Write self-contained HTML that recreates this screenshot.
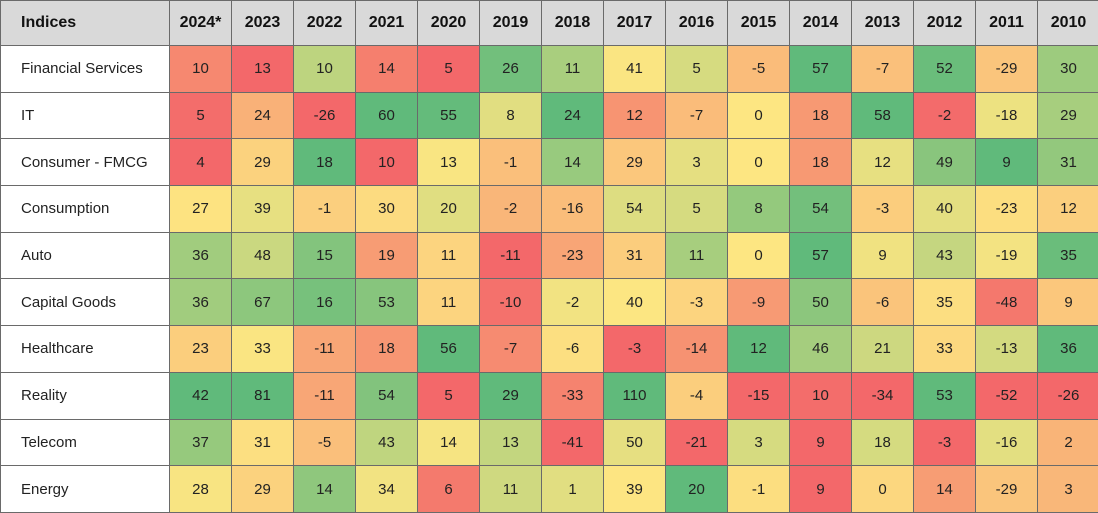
<!DOCTYPE html>
<html><head><meta charset="utf-8">
<style>
body{margin:0;background:#fff;font-family:"Liberation Sans",Arial,sans-serif;}
table{border-collapse:collapse;table-layout:fixed;width:1098px;}
td,th{border:1px solid #6a6a6a;text-align:center;font-size:15px;color:#222;padding:0;}
th{background:#d9d9d9;height:44px;font-size:16px;font-weight:bold;color:#111;}
td{height:45.7px;}
th.first{text-align:left;padding-left:20px;}
td.name{text-align:left;padding-left:20px;background:#fff;}
</style></head>
<body>
<table>
<colgroup><col style="width:169px" id="c0"></colgroup>
<thead><tr id="hdr"><th class="first">Indices</th></tr></thead>
<tbody id="body"></tbody>
</table>
<script>
const years = ["2024*","2023","2022","2021","2020","2019","2018","2017","2016","2015","2014","2013","2012","2011","2010"];
const indices = ["Financial Services","IT","Consumer - FMCG","Consumption","Auto","Capital Goods","Healthcare","Reality","Telecom","Energy"];
const rowFin = [10,13,10,14,5,26,11,41,5,-5,57,-7,52,-29,30];
const rowIT = [5,24,-26,60,55,8,24,12,-7,0,18,58,-2,-18,29];
const rowFMCG = [4,29,18,10,13,-1,14,29,3,0,18,12,49,9,31];
const rowCons = [27,39,-1,30,20,-2,-16,54,5,8,54,-3,40,-23,12];
const rowAuto = [36,48,15,19,11,-11,-23,31,11,0,57,9,43,-19,35];
const rowCap = [36,67,16,53,11,-10,-2,40,-3,-9,50,-6,35,-48,9];
const rowHealth = [23,33,-11,18,56,-7,-6,-3,-14,12,46,21,33,-13,36];
const rowReal = [42,81,-11,54,5,29,-33,110,-4,-15,10,-34,53,-52,-26];
const rowTel = [37,31,-5,43,14,13,-41,50,-21,3,9,18,-3,-16,2];
const rowEnergy = [28,29,14,34,6,11,1,39,20,-1,9,0,14,-29,3];
const values = [rowFin,rowIT,rowFMCG,rowCons,rowAuto,rowCap,rowHealth,rowReal,rowTel,rowEnergy];

const RED=[243,104,106], YEL=[253,230,130], GRN=[96,186,123];
function mix(a,b,t){return 'rgb('+a.map((v,i)=>Math.round(v+(b[i]-v)*t)).join(',')+')';}
function colorScale(col){
  const vals=values.map(r=>r[col]).slice().sort((a,b)=>a-b);
  const n=vals.length, min=vals[0], max=vals[n-1];
  const mid=(vals[(n-1)>>1]+vals[n>>1])/2;
  return v=>{
    if(v<=mid){return mix(RED,YEL,mid===min?1:(v-min)/(mid-min));}
    return mix(YEL,GRN,max===mid?0:(v-mid)/(max-mid));
  };
}
const hdr=document.getElementById('hdr');
const cg=document.querySelector('colgroup');
years.forEach(y=>{
  const c=document.createElement('col');c.style.width='62px';cg.appendChild(c);
  const th=document.createElement('th');
  
  
  th.textContent=y;hdr.appendChild(th);
});
const scales=years.map((_,i)=>colorScale(i));
const body=document.getElementById('body');
indices.forEach((name,r)=>{
  const tr=document.createElement('tr');
  
  
  const td=document.createElement('td');
  td.className='name';
  
  
  td.textContent=name;tr.appendChild(td);
  values[r].forEach((v,c)=>{
    const cell=document.createElement('td');
    
    
    cell.style.background=scales[c](v);
    cell.textContent=v;tr.appendChild(cell);
  });
  body.appendChild(tr);
});
</script>
</body></html>
